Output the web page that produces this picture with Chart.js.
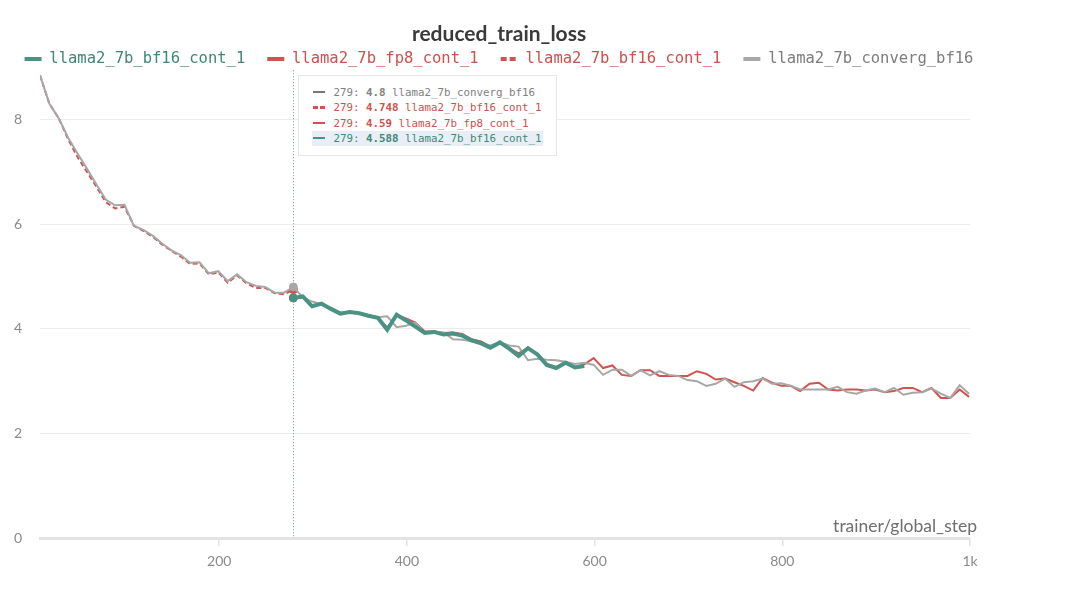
<!DOCTYPE html>
<html lang="en">

<head>
   <meta charset="UTF-8">
   <title>reduced_train_loss</title>
   <script src="https://cdn.jsdelivr.net/npm/chart.js@4.4.1/dist/chart.umd.min.js"></script>
   <style>
      body { margin: 0; background: #fff; }
      .wrap { position: relative; width: 998px; height: 608px; }
      #tip {
         position: absolute; display: none; background: #fff; border: 1px solid #e6e6e6;
         padding: 9px 13px 9px 13px; font-family: 'DejaVu Sans Mono', monospace; font-size: 10.8px;
         white-space: nowrap; pointer-events: none;
      }
      #tip .row { line-height: 15.3px; height: 15.3px; padding: 0 2px 0 1px; }
      #tip .row.hl { background: #e9eef6; }
      #tip .mk { display: inline-block; width: 12px; height: 2.5px; vertical-align: middle; margin-right: 8px; position: relative; top: -1px; }
   </style>
</head>

<body>
   <div class="wrap">
      <canvas id="myChart"></canvas>
      <div id="tip"></div>
   </div>
   <script>
      // trainer/global_step for every logged point
      const steps = [
         9, 19, 29, 39, 49, 59, 69, 79, 89, 99,
         109, 119, 129, 139, 149, 159, 169, 179, 189, 199,
         209, 219, 229, 239, 249, 259, 269, 279, 289, 299,
         309, 319, 329, 339, 349, 359, 369, 379, 389, 399,
         409, 419, 429, 439, 449, 459, 469, 479, 489, 499,
         509, 519, 529, 539, 549, 559, 569, 579, 589, 599,
         609, 619, 629, 639, 649, 659, 669, 679, 689, 699,
         709, 719, 729, 739, 749, 759, 769, 779, 789, 799,
         809, 819, 829, 839, 849, 859, 869, 879, 889, 899,
         909, 919, 929, 939, 949, 959, 969, 979, 989, 999
      ];

      // llama2_7b_converg_bf16 (steps 9..999)
      const convergBf16 = [
         8.84, 8.30, 8.02, 7.65, 7.35, 7.06, 6.76, 6.47, 6.36, 6.37,
         5.97, 5.89, 5.78, 5.63, 5.50, 5.41, 5.26, 5.27, 5.06, 5.10,
         4.91, 5.04, 4.89, 4.82, 4.80, 4.69, 4.69, 4.8, 4.60, 4.52,
         4.47, 4.40, 4.31, 4.31, 4.28, 4.23, 4.22, 4.24, 4.03, 4.06,
         4.12, 3.92, 3.95, 3.93, 3.80, 3.79, 3.76, 3.72, 3.68, 3.74,
         3.68, 3.66, 3.40, 3.43, 3.41, 3.40, 3.37, 3.33, 3.35, 3.31,
         3.12, 3.22, 3.22, 3.10, 3.21, 3.11, 3.19, 3.12, 3.10, 3.02,
         3.00, 2.91, 2.95, 3.05, 2.89, 2.98, 3.00, 3.05, 2.95, 2.96,
         2.91, 2.84, 2.84, 2.84, 2.84, 2.89, 2.79, 2.76, 2.82, 2.86,
         2.79, 2.87, 2.74, 2.78, 2.79, 2.86, 2.76, 2.68, 2.92, 2.76
      ];

      // llama2_7b_bf16_cont_1, original run (steps 9..279, dashed)
      const bf16Base = [
         8.84, 8.30, 8.02, 7.62, 7.28, 7.00, 6.72, 6.42, 6.30, 6.33,
         5.97, 5.87, 5.76, 5.61, 5.49, 5.38, 5.24, 5.25, 5.04, 5.08,
         4.88, 5.02, 4.87, 4.78, 4.78, 4.68, 4.66, 4.748
      ];

      // llama2_7b_fp8_cont_1 (steps 279..999)
      const fp8Cont = [
         4.59, 4.60, 4.45, 4.48, 4.38, 4.30, 4.32, 4.30, 4.26, 4.22,
         4.02, 4.26, 4.20, 4.12, 3.95, 3.95, 3.92, 3.93, 3.90, 3.80,
         3.76, 3.66, 3.74, 3.63, 3.53, 3.64, 3.53, 3.33, 3.27, 3.35,
         3.27, 3.32, 3.44, 3.25, 3.30, 3.12, 3.10, 3.21, 3.21, 3.10,
         3.10, 3.10, 3.10, 3.19, 3.14, 3.03, 3.05, 2.98, 2.91, 2.82,
         3.06, 2.97, 2.91, 2.91, 2.81, 2.95, 2.97, 2.84, 2.82, 2.84,
         2.84, 2.82, 2.84, 2.79, 2.81, 2.87, 2.87, 2.79, 2.87, 2.68,
         2.68, 2.84, 2.70
      ];

      // llama2_7b_bf16_cont_1, continued run (steps 279..589)
      const bf16Cont = [
         4.588, 4.62, 4.43, 4.48, 4.38, 4.29, 4.32, 4.30, 4.25, 4.21,
         3.98, 4.27, 4.16, 4.04, 3.92, 3.94, 3.89, 3.91, 3.87, 3.78,
         3.72, 3.64, 3.74, 3.62, 3.48, 3.63, 3.51, 3.31, 3.25, 3.35,
         3.26, 3.29
      ];

      const xTicks = [200, 400, 600, 800, 1000];
      const yTicks = [0, 2, 4, 6, 8];
      const hoverStep = 279;

      function pairs(xs, ys) {
         return ys.map((y, i) => ({ x: xs[i], y: y }));
      }
      const contStart = steps.indexOf(hoverStep);

      const GREEN = '#4a9384', RED = '#d0534f', GRAY = '#a7a7a7';

      function lineSet(label, data, color, width, extra) {
         return Object.assign({
            label: label,
            data: data,
            borderColor: color,
            backgroundColor: color,
            borderWidth: width,
            pointRadius: 0,
            pointHoverRadius: 4,
            pointHoverBorderWidth: 1,
            pointHoverBackgroundColor: color,
            pointHoverBorderColor: color,
            tension: 0,
            fill: false
         }, extra);
      }

      const datasets = [
         lineSet('llama2_7b_bf16_cont_1', pairs(steps.slice(contStart), bf16Cont), GREEN, 4,
            { order: 0, legendColor: '#3f8777', tipColor: '#3f8777', tipMark: GREEN }),
         lineSet('llama2_7b_fp8_cont_1', pairs(steps.slice(contStart), fp8Cont), RED, 2,
            { order: 2, legendColor: '#cd514d', tipColor: '#cd514d', tipMark: RED }),
         lineSet('llama2_7b_bf16_cont_1', pairs(steps.slice(0, contStart + 1), bf16Base), RED, 2,
            { order: 3, borderDash: [5, 3], legendColor: '#cd514d', tipColor: '#cd514d', tipMark: RED }),
         lineSet('llama2_7b_converg_bf16', pairs(steps, convergBf16), GRAY, 2,
            { order: 1, legendColor: '#7d7d7d', tipColor: '#808080', tipMark: '#777' })
      ];

      // html tooltip in wandb style
      function externalTip(context) {
         const tip = document.getElementById('tip');
         const tt = context.tooltip;
         if (tt.opacity === 0 || !tt.dataPoints) { tip.style.display = 'none'; return; }
         let html = '';
         tt.dataPoints.forEach((dp, i) => {
            const ds = dp.dataset;
            const mark = ds.borderDash
               ? 'background: repeating-linear-gradient(90deg, ' + ds.tipMark + ' 0 5px, transparent 5px 7px);'
               : 'background:' + ds.tipMark + ';';
            const last = i === tt.dataPoints.length - 1;
            html += '<div class="row' + (last ? ' hl' : '') + '" style="color:' + ds.tipColor + '">' +
               '<span class="mk" style="' + mark + '"></span>' +
               dp.raw.x + ': <b>' + dp.raw.y + '</b> ' + ds.label + '</div>';
         });
         tip.innerHTML = html;
         tip.style.display = 'block';
         tip.style.left = (tt.caretX + 5) + 'px';
         tip.style.top = (context.chart.chartArea.top + 5) + 'px';
      }

      const hoverLine = {
         id: 'hoverLine',
         beforeDatasetsDraw(chart) {
            const act = chart.getActiveElements();
            if (!act.length) return;
            const x = act[0].element.x;
            const ctx = chart.ctx;
            ctx.save();
            ctx.strokeStyle = '#6f8fc4';
            ctx.lineWidth = 1;
            ctx.setLineDash([1, 2]);
            ctx.beginPath();
            ctx.moveTo(Math.round(x) + 0.5, chart.chartArea.top);
            ctx.lineTo(Math.round(x) + 0.5, chart.chartArea.bottom);
            ctx.stroke();
            ctx.restore();
         },
         afterDraw(chart) {
            const ctx = chart.ctx;
            ctx.save();
            ctx.font = '17.5px Lato';
            ctx.fillStyle = '#6e6e6e';
            ctx.textAlign = 'right';
            ctx.textBaseline = 'middle';
            ctx.fillText('trainer/global_step', chart.chartArea.right + 7, chart.chartArea.bottom - 12);
            ctx.restore();
         }
      };

      const config = {
         type: 'line',
         data: { datasets: datasets },
         plugins: [hoverLine],
         options: {
            responsive: true,
            maintainAspectRatio: false,
            animation: false,
            events: [],
            layout: { padding: { left: 0, right: 0, top: 0, bottom: 31 } },
            scales: {
               x: {
                  type: 'linear',
                  min: 9,
                  max: 1000,
                  afterBuildTicks: scale => { scale.ticks = xTicks.map(v => ({ value: v })); },
                  afterFit: scale => { scale.paddingLeft = 0; scale.paddingRight = 28; },
                  grid: { drawOnChartArea: false, drawTicks: true, tickLength: 8, color: '#e3e3e3', lineWidth: 1.5 },
                  border: { display: true, color: '#e3e3e3', width: 3 },
                  ticks: {
                     padding: 7,
                     color: '#8a8a8a',
                     font: { family: 'Lato', size: 14 },
                     maxRotation: 0,
                     callback: v => v === 1000 ? '1k' : v
                  }
               },
               y: {
                  min: 0,
                  max: 8.94,
                  afterBuildTicks: scale => { scale.ticks = yTicks.map(v => ({ value: v })); },
                  afterFit: scale => { scale.width = 40; },
                  grid: { drawTicks: false, color: '#ececec', lineWidth: 1 },
                  border: { display: false },
                  ticks: { padding: 18, color: '#8a8a8a', font: { family: 'Lato', size: 14 } }
               }
            },
            plugins: {
               title: {
                  display: true,
                  text: 'reduced_train_loss',
                  color: '#3a3a3a',
                  font: { family: 'Lato', size: 21, weight: 'bold' },
                  padding: { top: 22, bottom: -18 }
               },
               legend: {
                  display: true,
                  maxHeight: 41,
                  labels: {
                     usePointStyle: true,
                     pointStyleWidth: 17,
                     padding: 22,
                     font: { family: 'DejaVu Sans Mono', size: 15.5 },
                     sort: (a, b) => a.datasetIndex - b.datasetIndex,
                     generateLabels(chart) {
                        const items = Chart.defaults.plugins.legend.labels.generateLabels(chart);
                        items.forEach(it => {
                           const ds = chart.data.datasets[it.datasetIndex];
                           it.pointStyle = 'line';
                           it.lineWidth = 4;
                           it.strokeStyle = ds.borderColor;
                           it.fillStyle = ds.borderColor;
                           it.fontColor = ds.legendColor;
                           it.lineDash = ds.borderDash ? [6, 3] : [];
                        });
                        return items;
                     }
                  }
               },
               tooltip: {
                  enabled: false,
                  external: externalTip,
                  itemSort: (a, b) => b.raw.y - a.raw.y
               }
            }
         }
      };

      const chart = new Chart(document.getElementById('myChart').getContext('2d'), config);

      // show the hover state at step 279
      const active = chart.data.datasets.map((ds, i) => ({
         datasetIndex: i,
         index: ds.data.findIndex(p => p.x === hoverStep)
      }));
      chart.setActiveElements(active);
      chart.tooltip.setActiveElements(active, { x: 293, y: 300 });
      chart.update();
   </script>
</body>

</html>
